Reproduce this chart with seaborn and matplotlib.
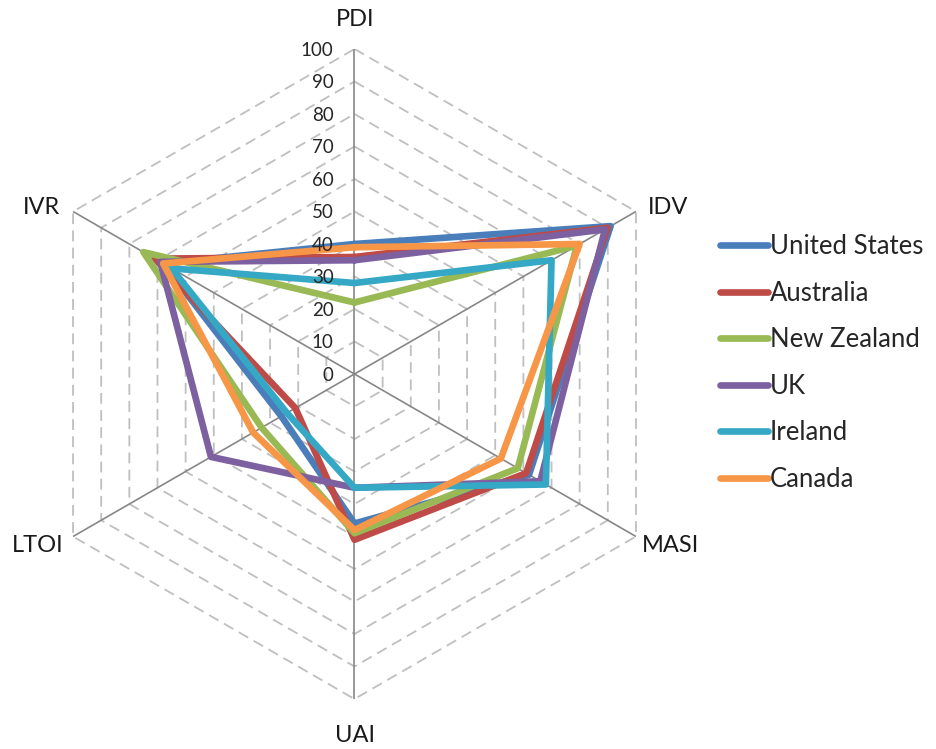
import numpy as np
import pandas as pd
import matplotlib
matplotlib.use("Agg")
import matplotlib.pyplot as plt
import seaborn as sns

# Hofstede dimensions
dimensions = ["PDI", "IDV", "MASI", "UAI", "LTOI", "IVR"]
countries = ["United States", "Australia", "New Zealand", "UK", "Ireland", "Canada"]
us = [40, 91, 62, 46, 26, 68]
australia = [36, 90, 61, 51, 21, 71]
new_zealand = [22, 79, 58, 49, 33, 75]
uk = [35, 89, 66, 35, 51, 69]
ireland = [28, 70, 68, 35, 24, 65]
canada = [39, 80, 52, 48, 36, 68]
tick_values = [0, 10, 20, 30, 40, 50, 60, 70, 80, 90, 100]

colors = ["#4A7EBB", "#BE4B48", "#98B954", "#7D60A0", "#35A8C6", "#F79646"]

sns.set_style("white")
plt.rcParams["font.family"] = ["Lato", "DejaVu Sans"]

series = [us, australia, new_zealand, uk, ireland, canada]
n = len(dimensions)
angles = [2 * np.pi * k / n for k in range(n)] + [2 * np.pi]

rows = []
for name, vals in zip(countries, series):
    for a, v in zip(angles, vals + vals[:1]):
        rows.append({"Country": name, "theta": a, "value": v})
df = pd.DataFrame(rows)

fig = plt.figure(figsize=(9.37, 7.49), dpi=100)
ax = fig.add_axes([29.5 / 937, 50 / 749, 650 / 937, 650 / 749], projection="polar")
ax.set_theta_offset(np.pi / 2)
ax.set_theta_direction(-1)

# hexagonal grid
for r in tick_values[1:]:
    ax.plot(angles, [r] * len(angles), color="#BFBFBF", lw=1.3,
            dashes=(6, 3.5), zorder=1)
for a in angles[:-1]:
    ax.plot([a, a], [0, 100], color="#878787", lw=1.2, zorder=1.5)

sns.lineplot(data=df, x="theta", y="value", hue="Country", sort=False,
             estimator=None, palette=colors, linewidth=4.8, ax=ax, zorder=3)
for line in ax.lines[-len(countries):]:
    line.set_solid_joinstyle("miter")

ax.set_ylim(0, 100)
ax.set_xticks([])
ax.set_yticks([])
ax.grid(False)
ax.spines["polar"].set_visible(False)
ax.set_xlabel("")
ax.set_ylabel("")

for v in tick_values:
    ax.annotate(str(v), xy=(0, v), xytext=(-15, -1), textcoords="offset points",
                ha="right", va="center", fontsize=13.5, color="#262626")

label_pos = [(355, 20), (668, 208), (670, 546), (355, 735), (38, 546), (42, 208)]
for lab, (px, py) in zip(dimensions, label_pos):
    fig.text(px / 937, 1 - py / 749, lab, ha="center", va="center",
             fontsize=17, color="#1a1a1a")

handles, labels = ax.get_legend_handles_labels()
for h in handles:
    h.set_solid_capstyle("round")
ax.legend(handles, labels, loc="upper left", bbox_to_anchor=(720 / 937, 1 - 234 / 749),
          bbox_transform=fig.transFigure, frameon=False, fontsize=18.5,
          handlelength=1.85, handletextpad=0.1, labelspacing=0.84,
          borderaxespad=0, borderpad=0)

fig.savefig("out.png", dpi=100)
